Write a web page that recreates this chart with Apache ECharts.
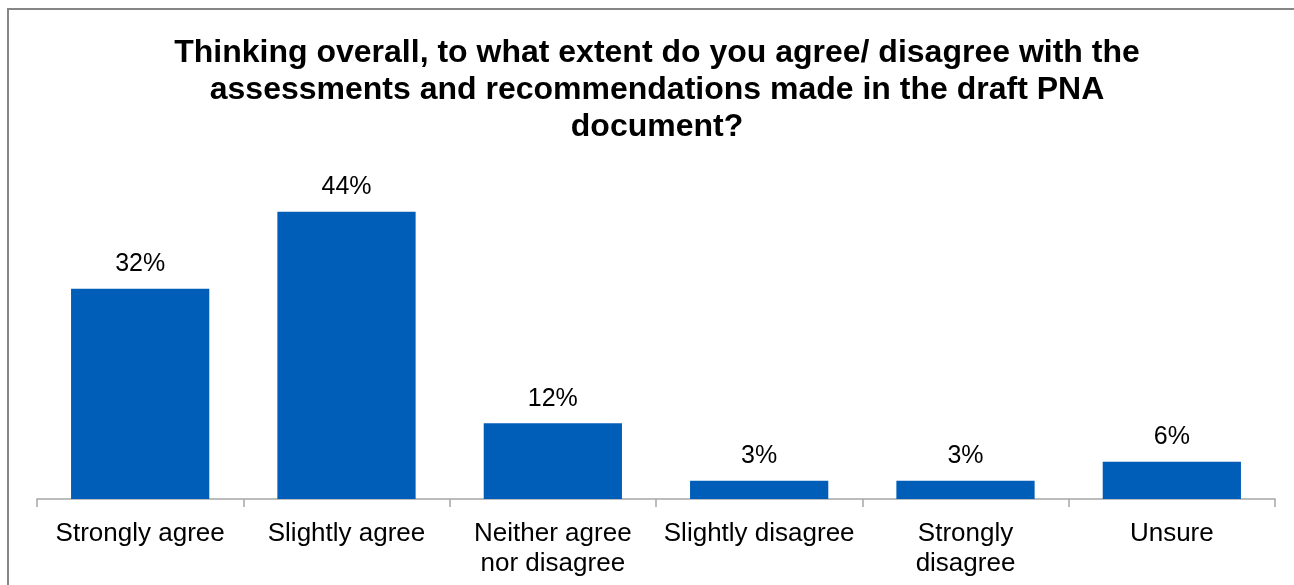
<!DOCTYPE html>
<html>
<head>
<meta charset="utf-8">
<script src="https://cdn.jsdelivr.net/npm/echarts@6/dist/echarts.min.js"></script>
<style>
html,body{margin:0;padding:0;background:#fff;}
#chart{width:1294px;height:585px;}
</style>
</head>
<body>
<div id="chart"></div>
<script>
var titleText = 'Thinking overall, to what extent do you agree/ disagree with the\nassessments and recommendations made in the draft PNA\ndocument?';
var categories = ['Strongly agree', 'Slightly agree', 'Neither agree\nnor disagree', 'Slightly disagree', 'Strongly\ndisagree', 'Unsure'];
var values = [32.2, 44.0, 11.6, 2.8, 2.8, 5.7];
var labels = ['32%', '44%', '12%', '3%', '3%', '6%'];

var chart = echarts.init(document.getElementById('chart'), null, {renderer: 'canvas'});
chart.setOption({
  animation: false,
  backgroundColor: '#ffffff',
  textStyle: {fontFamily: 'Liberation Sans, Arial, sans-serif'},
  graphic: [{
    type: 'rect',
    shape: {x: 8, y: 9, width: 1400, height: 700},
    style: {fill: 'none', stroke: '#868686', lineWidth: 2},
    silent: true
  }],
  title: {
    text: titleText,
    left: 652,
    textAlign: 'center',
    top: 30,
    textStyle: {fontSize: 32, fontWeight: 'bold', color: '#000', lineHeight: 37, fontFamily: 'Liberation Sans, Arial, sans-serif'}
  },
  grid: {left: 37, right: 19, top: 172.5, bottom: 86, containLabel: false},
  xAxis: {
    type: 'category',
    data: categories,
    axisLine: {show: true, lineStyle: {color: '#a6a6a6', width: 1.5}},
    axisTick: {show: true, length: 8, alignWithLabel: false, lineStyle: {color: '#a6a6a6', width: 1.5}},
    axisLabel: {color: '#000', fontSize: 26, lineHeight: 30, margin: 20, interval: 0, fontFamily: 'Liberation Sans, Arial, sans-serif'}
  },
  yAxis: {
    type: 'value', min: 0, max: 50, show: false,
    splitLine: {show: false}
  },
  series: [{
    type: 'bar',
    data: values,
    barCategoryGap: '33%',
    itemStyle: {color: '#005EB8'},
    label: {
      show: true, position: 'top', distance: 12,
      color: '#000', fontSize: 25, fontFamily: 'Liberation Sans, Arial, sans-serif',
      formatter: function (p) { return labels[p.dataIndex]; }
    }
  }]
});
</script>
</body>
</html>
